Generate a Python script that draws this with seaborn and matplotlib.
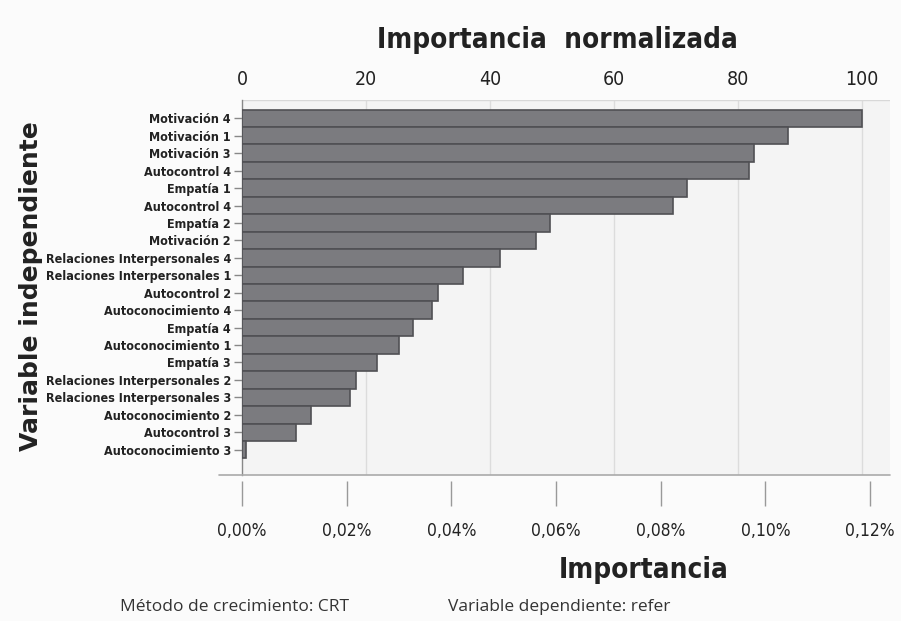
import pandas as pd
import seaborn as sns
import matplotlib.pyplot as plt
from matplotlib.ticker import FuncFormatter

# data (importance in %)
variables = [
    "Motivación 4", "Motivación 1", "Motivación 3", "Autocontrol 4", "Empatía 1",
    "Autocontrol 4", "Empatía 2", "Motivación 2", "Relaciones Interpersonales 4",
    "Relaciones Interpersonales 1", "Autocontrol 2", "Autoconocimiento 4", "Empatía 4",
    "Autoconocimiento 1", "Empatía 3", "Relaciones Interpersonales 2",
    "Relaciones Interpersonales 3", "Autoconocimiento 2", "Autocontrol 3",
    "Autoconocimiento 3",
]
importancia = [
    0.1185, 0.1043, 0.0979, 0.0968, 0.0850, 0.0824, 0.0588, 0.0562, 0.0492, 0.0422,
    0.0374, 0.0363, 0.0327, 0.0299, 0.0257, 0.0218, 0.0206, 0.0132, 0.0103, 0.0008,
]
bottom_ticks = [0.0, 0.02, 0.04, 0.06, 0.08, 0.10, 0.12]
top_ticks = [0, 20, 40, 60, 80, 100]

max_imp = max(importancia)

def to_norm(v):
    return v / max_imp * 100

def to_imp(n):
    return n * max_imp / 100

sns.set_style("white")
plt.rcParams["font.family"] = ["DejaVu Sans"]
plt.rcParams["font.stretch"] = "condensed"
cond = dict(fontstretch="condensed")

fig = plt.figure(figsize=(9.01, 6.21), dpi=100)
fig.patch.set_facecolor("#fbfbfb")
ax = fig.add_axes([242 / 901, 1 - 475 / 621, (890 - 242) / 901, (475 - 100) / 621])
ax.set_facecolor("#f4f4f4")

df = pd.DataFrame({"key": [str(i) for i in range(len(variables))],
                   "imp": importancia})
sns.barplot(data=df, x="imp", y="key", orient="h", width=1.0, color="#7b7b7f",
            saturation=1, edgecolor="#505054", linewidth=1.2, ax=ax, zorder=3)

ax.set_yticks(range(len(variables)))
ax.set_yticklabels(variables, fontsize=9, fontweight="bold", color="#222222", **cond)
ax.set_ylim(20.45, -1.05)
ax.set_xlim(0, 0.1238)
ax.set_xlabel("")
ax.set_ylabel("")

# grid lines follow the normalized scale
for t in top_ticks[1:]:
    ax.axvline(to_imp(t), color="#dcdcdc", lw=1, zorder=1)

for s in ["top", "right", "bottom"]:
    ax.spines[s].set_visible(False)
ax.spines["left"].set_color("#888888")
ax.spines["left"].set_linewidth(1)
ax.axhline(20.45, xmin=-0.035, xmax=1, color="#aaaaaa", lw=1.2, clip_on=False, zorder=4)
ax.axhline(-1.05, color="#d8d8d8", lw=1, zorder=1)

ax.tick_params(axis="y", length=6, color="#888888", width=1, pad=2, left=True)

# bottom axis: importance
ax.set_xticks(bottom_ticks)
ax.xaxis.set_major_formatter(FuncFormatter(lambda v, p: f"{v:.2f}%".replace(".", ",")))
ax.tick_params(axis="x", bottom=True, direction="out", length=18, width=1,
               color="#999999", labelsize=12.5, labelcolor="#222222", pad=12)
ax.spines["bottom"].set_position(("outward", 4))
fig.canvas.draw()
for lab in ax.get_xticklabels():
    lab.set_fontstretch("condensed")

# top axis: normalized importance
sec = ax.secondary_xaxis("top", functions=(to_norm, to_imp))
sec.set_xticks(top_ticks)
sec.tick_params(length=0, labelsize=14, labelcolor="#222222", pad=8)
sec.spines["top"].set_visible(False)
for lab in sec.get_xticklabels():
    lab.set_fontstretch("condensed")

fig.text(0.619, 0.936, "Importancia  normalizada", ha="center", va="center",
         fontsize=20, fontweight="bold", color="#222222", **cond)
fig.text(0.714, 0.082, "Importancia", ha="center", va="center",
         fontsize=20, fontweight="bold", color="#222222", **cond)
fig.text(0.034, 0.54, "Variable independiente", ha="center", va="center",
         rotation=90, fontsize=18, fontweight="bold", color="#222222",
         family=["DejaVu Sans"], fontstretch="normal")
fig.text(120 / 901, 0.022, "Método de crecimiento: CRT", ha="left", va="center",
         fontsize=12.5, color="#333333", family=["Open Sans", "DejaVu Sans"],
         fontstretch="normal")
fig.text(448 / 901, 0.022, "Variable dependiente: refer", ha="left", va="center",
         fontsize=12.5, color="#333333", family=["Open Sans", "DejaVu Sans"],
         fontstretch="normal")

fig.savefig("out.png", dpi=100, facecolor=fig.get_facecolor())
